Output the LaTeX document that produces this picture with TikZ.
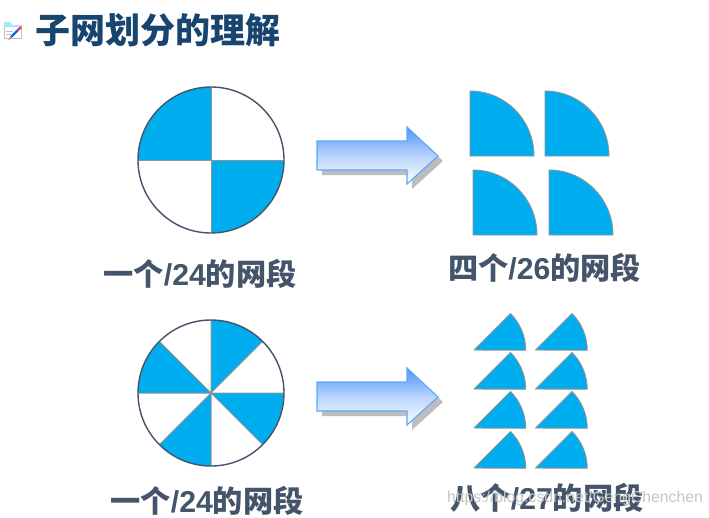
\documentclass[tikz,border=0pt]{standalone}
\usepackage{fontspec}
\setmainfont{Liberation Sans}
\newfontfamily\cjkheavy{Noto Sans CJK SC Black}
\newfontfamily\wmfont{Liberation Sans}
\usetikzlibrary{shadings}
\definecolor{skyfill}{HTML}{00ADEF}
\definecolor{rimcol}{HTML}{44546A}
\definecolor{titlecol}{HTML}{17456F}
\definecolor{labelcol}{HTML}{44546A}
\definecolor{arrowedge}{HTML}{5AA8FA}
\definecolor{arrowtop}{HTML}{4F92FA}
\definecolor{arrowshadow}{HTML}{BDBDBD}
\newcommand{\lat}[1]{{\rmfamily\bfseries #1}}
\tikzset{
  x=1pt,y=-1pt,
  wedge/.style={fill=skyfill,draw=gray!85,line width=0.9pt,line join=round},
  spoke/.style={draw=gray!85,line width=1pt},
  rim/.style={draw=rimcol,line width=1.4pt},
  ttl/.style={text=titlecol,font=\fontsize{35}{35}\selectfont\cjkheavy,inner sep=0pt},
  lbl/.style={text=labelcol,font=\fontsize{30.2}{30.2}\selectfont\cjkheavy,inner sep=0pt},
  wm/.style={text=gray!45,font=\fontsize{15.75}{15.75}\selectfont\wmfont,inner sep=0pt},
}
\newcommand{\quarter}[2]{%
  \draw[wedge] (#1,#2) -- ++(0,-65) arc[start angle=90,end angle=0,x radius=64pt,y radius=65pt] -- cycle;}
\newcommand{\slice}[2]{%
  \draw[wedge] (#1,#2) -- ++(36.5,-36.5) arc[start angle=45,end angle=0,radius=52pt] -- cycle;}
\newcommand{\fatarrow}[1]{%
  \begin{scope}[yshift=#1]
  \fill[arrowshadow] (322,146) -- (412,146) -- (412,132) -- (443,161) -- (412,189) -- (412,175) -- (322,175) -- cycle;
  \path[top color=arrowtop,bottom color=white,middle color=arrowtop!40,draw=arrowedge,line width=1.1pt,line join=miter]
    (317,141) -- (407,141) -- (407,127) -- (438,156) -- (407,184) -- (407,170) -- (317,170) -- cycle;
  \end{scope}}
\begin{document}
\begin{tikzpicture}
\useasboundingbox (0,0) rectangle (709,517);
\fill[white] (0,0) rectangle (709,517);
% title icon
\fill[white,draw=gray!50,line width=.5pt] (4,25) rectangle (21,38);
\fill[blue!25!cyan!35] (4,22) -- (11,22) -- (12,25) -- (21,25) -- (21,27) -- (4,27) -- cycle;
\draw[gray!50,line width=.5pt] (6,31) -- (13,31) (6,34) -- (11,34);
\draw[blue!60!cyan,line width=2.4pt] (11,37) -- (18,30);
\draw[red!80,line width=2.4pt] (18,30) -- (21,27);
\draw[orange,line width=1.4pt] (9,39.5) -- (11,37);
\node[ttl,anchor=center] (title) at (158,30) {子网划分的理解};
% circle 1
\fill[skyfill] (211,160) -- (211,87) arc[start angle=90,end angle=180,radius=73pt] -- cycle;
\fill[skyfill] (211,160) -- (211,233) arc[start angle=270,end angle=360,radius=73pt] -- cycle;
\draw[spoke] (138,160) -- (284,160) (211,87) -- (211,233);
\draw[rim] (211,160) circle[radius=73pt];
\node[lbl,anchor=center] (l1) at (200,274) {一个\lat{/24}的网段};
% arrow 1
\fatarrow{0pt}
% quarters
\quarter{470}{156}
\quarter{545}{156}
\quarter{473}{235}
\quarter{549}{235}
\node[lbl,anchor=center] (l2) at (544.5,268) {四个\lat{/26}的网段};
% circle 2
\fill[skyfill] (211,393) -- (211,320) arc[start angle=90,end angle=45,radius=73pt] -- cycle;
\fill[skyfill] (211,393) -- (138,393) arc[start angle=180,end angle=135,radius=73pt] -- cycle;
\fill[skyfill] (211,393) -- (211,466) arc[start angle=270,end angle=225,radius=73pt] -- cycle;
\fill[skyfill] (211,393) -- (284,393) arc[start angle=360,end angle=315,radius=73pt] -- cycle;
\draw[spoke] (138,393) -- (284,393) (211,320) -- (211,466)
  (159.4,341.4) -- (262.6,444.6) (159.4,444.6) -- (262.6,341.4);
\draw[rim] (211,393) circle[radius=73pt];
\node[lbl,anchor=center] (l3) at (207,501) {一个\lat{/24}的网段};
% arrow 2
\fatarrow{-241pt}
% slices
\foreach \yb in {350,389,428,468}{
  \slice{474}{\yb}
  \slice{535.5}{\yb}
}
\node[lbl,anchor=center] (l4) at (547,498) {八个\lat{/27}的网段};
\node[wm,anchor=west] (wm) at (447,498) {https://blog.csdn.net/GengChenchen};
\end{tikzpicture}
\end{document}
